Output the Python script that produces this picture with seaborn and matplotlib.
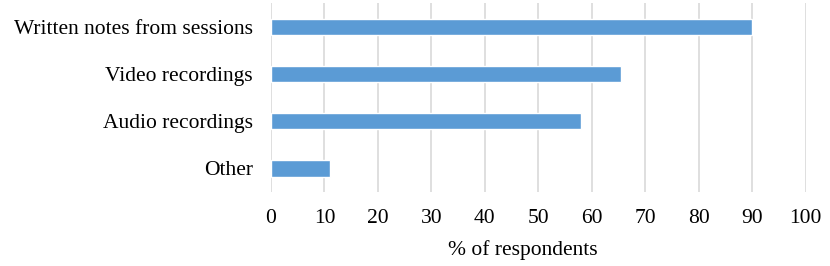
import matplotlib
matplotlib.use("Agg")
import matplotlib.pyplot as plt
import seaborn as sns
import pandas as pd

categories = ["Written notes from sessions", "Video recordings", "Audio recordings", "Other"]
values = [90.0, 65.5, 58.0, 11.0]
xticks = [0, 10, 20, 30, 40, 50, 60, 70, 80, 90, 100]
xlabel = "% of respondents"

sns.set_theme(style="white")
plt.rcParams['font.family'] = ['Liberation Serif', 'DejaVu Serif']

df = pd.DataFrame({"category": categories, "value": values})

fig = plt.figure(figsize=(8.3, 2.66), dpi=100)
W, H = 830, 266
x0, x1, y0, y1 = 271, 805.5, 3.3, 192
ax = fig.add_axes([x0 / W, 1 - y1 / H, (x1 - x0) / W, (y1 - y0) / H])

sns.barplot(data=df, x="value", y="category", orient="h", color="#5B9BD5",
            saturation=1, width=0.35, ax=ax, zorder=3)

fs = 15.5
ax.set_xlim(0, 100)
ax.set_xticks(xticks)
ax.set_xticklabels([str(t) for t in xticks])
ax.grid(axis="x", color="#D9D9D9", linewidth=1.2, zorder=0)
ax.grid(axis="y", visible=False)
for s in ax.spines.values():
    s.set_visible(False)
ax.tick_params(axis="both", length=0, labelsize=fs, colors="black")
ax.tick_params(axis="y", pad=13)
ax.tick_params(axis="x", pad=12)
ax.set_ylabel("")
ax.set_xlabel(xlabel, fontsize=fs, color="black")
ax.xaxis.set_label_coords((522.5 - x0) / (x1 - x0), -(250 - y1) / (y1 - y0))
ax.xaxis.label.set_va("center")

fig.savefig("out.png", dpi=100)
